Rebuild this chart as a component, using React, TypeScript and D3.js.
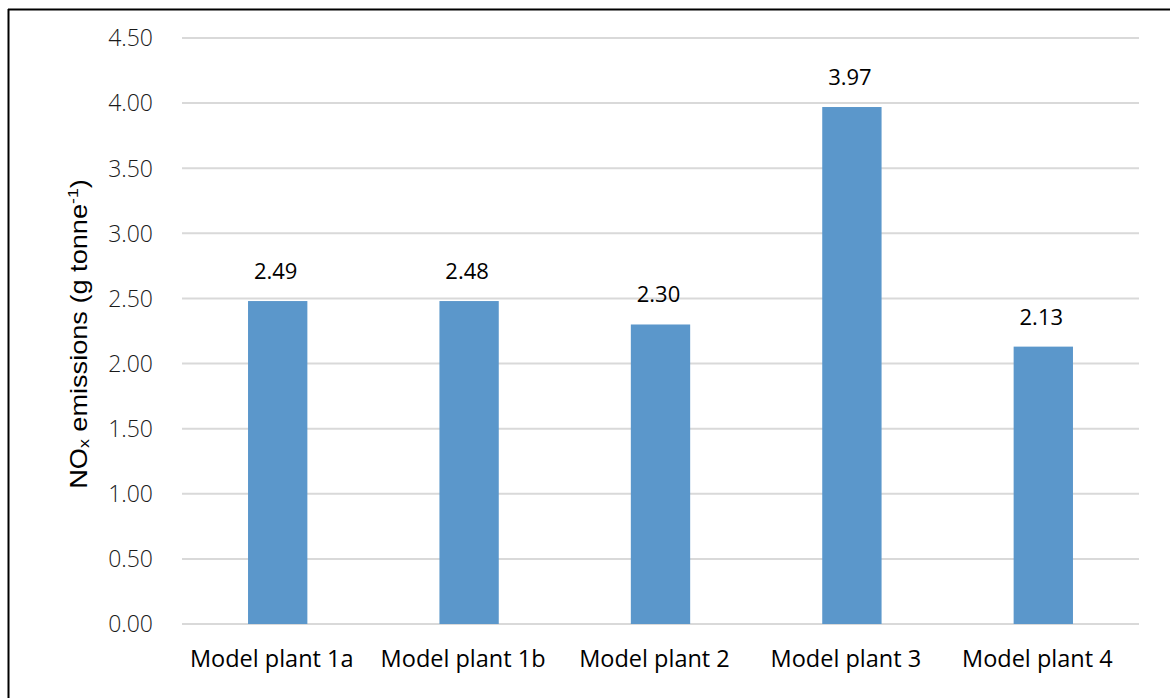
import React from "react";
import * as d3 from "d3";

const categories = ["Model plant 1a", "Model plant 1b", "Model plant 2", "Model plant 3", "Model plant 4"];
const values = [2.48, 2.48, 2.30, 3.97, 2.13];
const valueLabels = ["2.49", "2.48", "2.30", "3.97", "2.13"];
const yTicks = [0, 0.5, 1, 1.5, 2, 2.5, 3, 3.5, 4, 4.5];

export default function App() {
  const W = 1170, H = 698;
  const left = 182, right = 1139, top = 38, bottom = 624;
  const x = d3.scaleBand<string>().domain(categories).range([left, right]).paddingInner(0.69).paddingOuter(0.345);
  const y = d3.scaleLinear().domain([0, 4.5]).range([bottom, top]);
  const bw = x.bandwidth();
  return (
    <svg width={W} height={H} style={{ position: "absolute", left: 0, top: 0, background: "#fff" }}>
      <rect x={0} y={0} width={W} height={H} fill="#fff" />
      <line x1={8} y1={9.5} x2={1170} y2={9.5} stroke="#000" strokeWidth={2} />
      <line x1={8.5} y1={9} x2={8.5} y2={698} stroke="#000" strokeWidth={2} />
      {yTicks.map((t) => (
        <g key={t}>
          <line x1={left} x2={right} y1={y(t)} y2={y(t)} stroke="#d9d9d9" strokeWidth={2} />
          <text x={153} y={y(t)} dy="0.36em" textAnchor="end" fontFamily="'Open Sans', sans-serif" fontSize={23} fill="#1a1a1a" fontWeight={300}>
            {t.toFixed(2)}
          </text>
        </g>
      ))}
      {categories.map((c, i) => {
        const cx = (x(c) as number) + bw / 2;
        return (
          <g key={c}>
            <rect x={x(c)} y={y(values[i])} width={bw} height={bottom - y(values[i])} fill="#5b97cb" />
            <text x={cx - 2} y={y(values[i]) - 22} textAnchor="middle" fontFamily="'Open Sans', sans-serif" fontSize={22} fill="#000">
              {valueLabels[i]}
            </text>
            <text x={cx - 6} y={667} textAnchor="middle" fontFamily="'Open Sans', sans-serif" fontSize={23.5} fill="#000">
              {c}
            </text>
          </g>
        );
      })}
      <text transform={`translate(87,334) rotate(-90) scale(1.18,1)`} textAnchor="middle" fontFamily="'Liberation Sans', Arial, sans-serif" fontSize={23} fill="#000">
        NO<tspan fontSize={15} dy={2}>x</tspan><tspan dy={-2}> emissions (g tonne</tspan><tspan fontSize={15} dy={-9}>-1</tspan><tspan dy={9}>)</tspan>
      </text>
    </svg>
  );
}
